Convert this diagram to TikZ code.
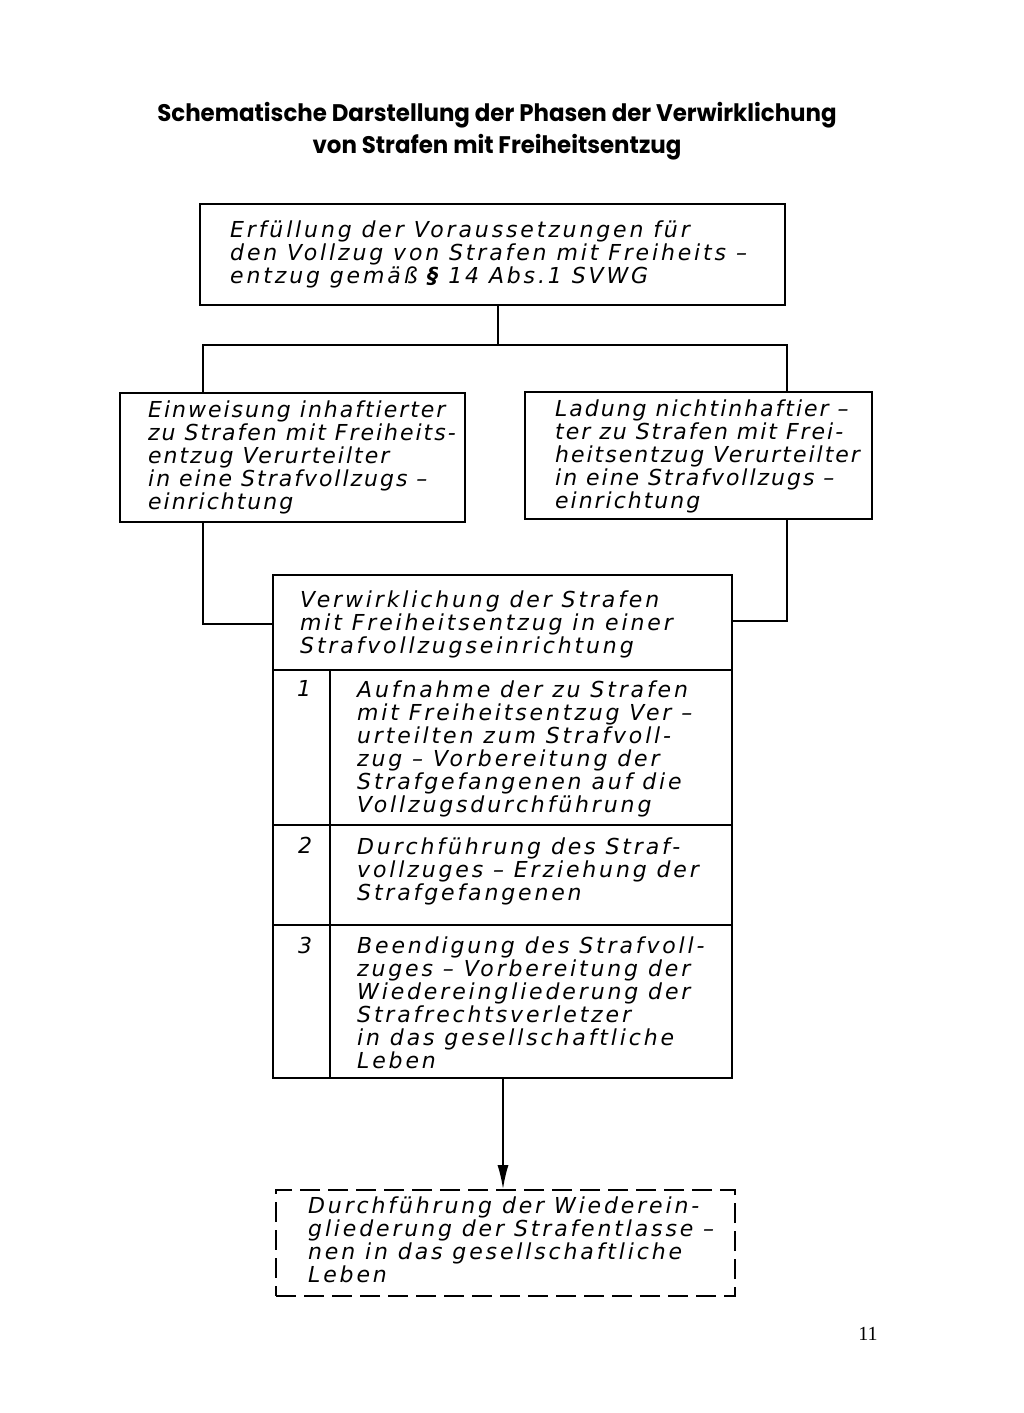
\documentclass[tikz,border=0pt]{standalone}
\usepackage{fontspec}
\setmainfont{DejaVu Sans}
\newfontfamily\hand[LetterSpace=13]{DejaVu Sans}
\newfontfamily\handnarrow[LetterSpace=9]{DejaVu Sans}
\newfontfamily\titlefont{Poppins}
\newfontfamily\pagefont{Liberation Serif}
\usetikzlibrary{arrows.meta}
\begin{document}
\begin{tikzpicture}[x=1pt,y=-1pt,
  box/.style={draw, line width=1.7pt, inner sep=0pt},
  dbox/.style={draw, line width=1.7pt, inner sep=0pt, dash pattern=on 20pt off 8pt},
  txt/.style={anchor=west, align=left, inner sep=0pt, font=\hand\itshape\fontsize{22}{23}\selectfont},
  sidetxt/.style={anchor=west, align=left, inner sep=0pt, font=\handnarrow\itshape\fontsize{22}{23}\selectfont},
  numtxt/.style={anchor=north, inner sep=0pt, font=\hand\itshape\fontsize{22}{23}\selectfont},
  link/.style={line width=1.7pt},
]
\useasboundingbox[fill=white] (0,0) rectangle (1024,1413);

\node[font=\titlefont\bfseries\fontsize{24}{32}\selectfont, align=center, xscale=0.955] (title) at (497,131)
  {Schematische Darstellung der Phasen der Verwirklichung\\von Strafen mit Freiheitsentzug};

% boxes
\node[box, minimum width=585pt, minimum height=101pt] (b1) at (492.5,254.5) {};
\node[box, minimum width=345pt, minimum height=129pt] (bl) at (292.5,457.5) {};
\node[box, minimum width=347pt, minimum height=127pt] (br) at (698.5,455.5) {};
\node[box, minimum width=459pt, minimum height=503pt] (mid) at (502.5,826.5) {};
\node[dbox, minimum width=459pt, minimum height=106pt] (dash) at (505.5,1243) {};

% table lines
\draw[link] (mid.west |- 0,670) -- (mid.east |- 0,670);
\draw[link] (mid.west |- 0,825) -- (mid.east |- 0,825);
\draw[link] (mid.west |- 0,925) -- (mid.east |- 0,925);
\draw[link] (330,670) -- (330,0 |- mid.south);

% texts
\node[txt] (t1) at (230,254.5) {Erfüllung der Voraussetzungen für\\den Vollzug von Strafen mit Freiheits –\\entzug gemäß {\bfseries\S} 14 Abs.1 SVWG};
\node[sidetxt] (t2) at (148,457.5) {Einweisung inhaftierter\\zu Strafen mit Freiheits-\\entzug Verurteilter\\in eine Strafvollzugs –\\einrichtung};
\node[sidetxt] (t3) at (555,456) {Ladung nichtinhaftier –\\ter zu Strafen mit Frei-\\heitsentzug Verurteilter\\in eine Strafvollzugs –\\einrichtung};
\node[txt] (t4) at (300,624) {Verwirklichung der Strafen\\mit Freiheitsentzug in einer\\Strafvollzugseinrichtung};
\node[txt] (r1) at (357,749) {Aufnahme der zu Strafen\\mit Freiheitsentzug Ver –\\urteilten zum Strafvoll-\\zug – Vorbereitung der\\Strafgefangenen auf die\\Vollzugsdurchführung};
\node[txt] (r2) at (357,871) {Durchführung des Straf-\\vollzuges – Erziehung der\\Strafgefangenen};
\node[txt] (r3) at (357,1003) {Beendigung des Strafvoll-\\zuges – Vorbereitung der\\Wiedereingliederung der\\Strafrechtsverletzer\\in das gesellschaftliche\\Leben};
\node[txt] (d1) at (308,1240) {Durchführung der Wiederein-\\gliederung der Strafentlasse –\\nen in das gesellschaftliche\\Leben};

\node[numtxt] (n1) at (r1.north -| 304,0) {1};
\node[numtxt] (n2) at (r2.north -| 305,0) {2};
\node[numtxt] (n3) at (r3.north -| 305,0) {3};

% connectors
\coordinate (j) at (498,345);
\coordinate (lt) at (203,345);
\coordinate (rt) at (787,345);
\coordinate (lb) at (203,624);
\coordinate (rb) at (787,621);
\coordinate (ar) at (503,1190);
\draw[link] (b1.south -| j) -- (j);
\draw[link] (lt |- bl.north) -- (lt) -- (rt) -- (rt |- br.north);
\draw[link] (lb |- bl.south) -- (lb) -- (lb -| mid.west);
\draw[link] (rb |- br.south) -- (rb) -- (rb -| mid.east);
\draw[link, -{Latex[length=24pt,width=11pt]}] (mid.south -| ar) -- (dash.north -| ar);

\node[font=\pagefont\fontsize{20}{24}\selectfont, inner sep=0pt] (page) at (868,1334) {11};
\end{tikzpicture}
\end{document}
